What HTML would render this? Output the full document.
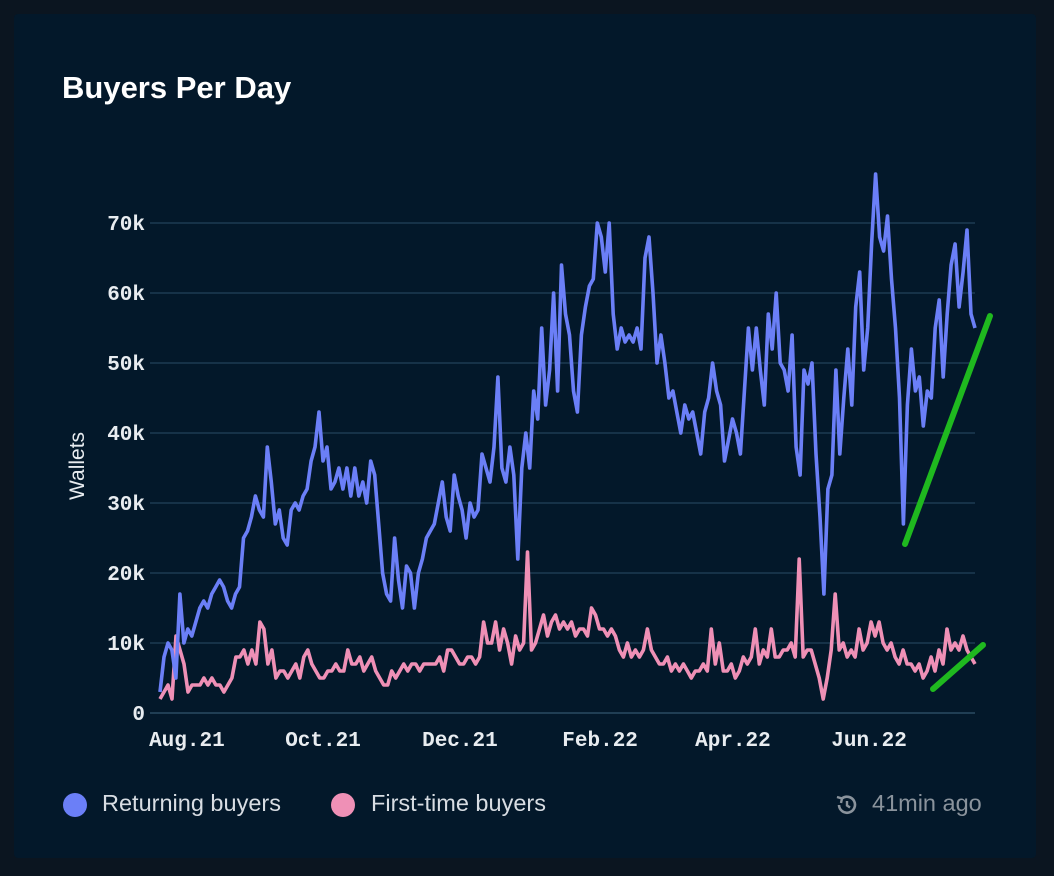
<!DOCTYPE html>
<html><head><meta charset="utf-8"><style>
html,body{margin:0;padding:0;background:#0b1520;}
body{width:1054px;height:876px;position:relative;overflow:hidden;font-family:"Liberation Sans",sans-serif;}
.card{position:absolute;left:14px;top:14px;width:1022px;height:844px;background:#03182a;border-radius:4px;}
.title{position:absolute;left:62px;top:70px;color:#fff;font-weight:bold;font-size:31px;}
.leg{position:absolute;top:790px;color:#d8dde3;font-size:23.5px;}
.dot{position:absolute;width:24px;height:24px;border-radius:50%;top:793px;}
</style></head><body>
<div class="card"></div>
<div class="title">Buyers Per Day</div>
<svg id="chart" width="1054" height="876" style="position:absolute;left:0;top:0"></svg>
<div class="dot" style="left:63px;background:#6b7ff7"></div>
<div class="leg" style="left:102px">Returning buyers</div>
<div class="dot" style="left:331px;background:#ef90b6"></div>
<div class="leg" style="left:371px">First-time buyers</div>
<svg style="position:absolute;left:834px;top:792px" width="26" height="26" viewBox="0 0 26 26">
<path d="M5 13 A8 8 0 1 0 8 6.5" fill="none" stroke="#8a939c" stroke-width="2.6"/><path d="M3 5 L8 6.5 L7 11" fill="none" stroke="#8a939c" stroke-width="2.4"/><path d="M13 9 V13.5 L16 15.5" fill="none" stroke="#8a939c" stroke-width="2.4"/></svg>
<div class="leg" style="left:872px;color:#8a939c">41min ago</div>
<script>
const yTicks=[0,10,20,30,40,50,60,70];
const yTickLabels=["0","10k","20k","30k","40k","50k","60k","70k"];
const xTickLabels=["Aug.21","Oct.21","Dec.21","Feb.22","Apr.22","Jun.22"];
const xTickFrac=[0.033,0.2,0.368,0.54,0.703,0.87];
const returning=[3,8,10,9,5,17,10,12,11,13,15,16,15,17,18,19,18,16,15,17,18,25,26,28,31,29,28,38,33,27,29,25,24,29,30,29,31,32,36,38,43,36,38,32,33,35,32,35,31,35,31,33,30,36,34,27,20,17,16,25,19,15,21,20,15,20,22,25,26,27,30,33,28,26,34,31,29,25,30,28,29,37,35,33,38,48,35,33,38,34,22,35,40,35,46,42,55,44,49,60,46,64,57,54,46,43,54,58,61,62,70,68,63,70,57,52,55,53,54,53,55,52,65,68,60,50,54,50,45,46,43,40,44,42,43,40,37,43,45,50,46,44,36,39,42,40,37,46,55,49,55,49,44,57,52,60,50,49,46,54,38,34,49,47,50,37,28,17,32,34,49,37,45,52,44,58,63,49,55,67,77,68,66,71,62,55,45,27,44,52,46,48,41,46,45,55,59,48,57,64,67,58,63,69,57,55];
const firstTime=[2,3,4,2,11,9,7,3,4,4,4,5,4,5,4,4,3,4,5,8,8,9,7,9,7,13,12,7,9,5,6,6,5,6,7,5,8,9,7,6,5,5,6,6,7,6,6,9,7,7,8,6,7,8,6,5,4,4,6,5,6,7,6,7,7,6,7,7,7,7,8,6,9,9,8,7,7,8,8,7,8,13,10,10,13,9,12,10,7,11,9,10,23,9,10,12,14,11,13,14,12,13,12,13,11,12,12,11,15,14,12,12,11,12,11,9,8,10,8,9,8,9,12,9,8,7,7,8,6,7,6,7,6,5,6,6,7,6,12,7,10,6,6,7,5,6,8,7,8,12,7,9,8,12,8,8,9,9,10,8,22,8,9,9,7,5,2,5,9,17,9,10,8,9,8,12,9,10,13,11,13,10,9,10,8,7,9,7,7,6,7,5,6,8,6,9,7,12,9,10,9,11,9,8,7];
const svg=document.getElementById('chart');const NS='http://www.w3.org/2000/svg';
const X0=160,X1=975,Y0=713,PX=7;
const yScale=v=>Y0-v*PX;
const xScale=(i,n)=>X0+i*(X1-X0)/(n-1);
function mk(t,a){const e=document.createElementNS(NS,t);for(const k in a)e.setAttribute(k,a[k]);svg.appendChild(e);return e;}
yTicks.forEach((v,i)=>{
 const g=mk('line',{x1:150,x2:975,y1:yScale(v),y2:yScale(v),stroke:i==0?'#2a4a63':'#1d3a52','stroke-width':1.5});
 
 
 const t=mk('text',{x:145,y:yScale(v)+7,'text-anchor':'end',fill:'#e8ecf0','font-size':21,'font-weight':'bold','font-family':'Liberation Mono, monospace'});
 t.textContent=yTickLabels[i];
 
 
});
xTickLabels.forEach((l,i)=>{
 const t=mk('text',{x:X0+xTickFrac[i]*(X1-X0),y:746,'text-anchor':'middle',fill:'#e8ecf0','font-size':21,'font-weight':'bold','font-family':'Liberation Mono, monospace'});
 t.textContent=l;
 
 
});
const yt=mk('text',{x:0,y:0,transform:'translate(84,466) rotate(-90)','text-anchor':'middle',fill:'#e8ecf0','font-size':21});
yt.textContent='Wallets';


function line(arr,col,name){
 const d=arr.map((v,i)=>(i?'L':'M')+xScale(i,arr.length).toFixed(1)+' '+yScale(v).toFixed(1)).join(' ');
 const p=mk('path',{d:d,fill:'none',stroke:col,'stroke-width':3.6,'stroke-linejoin':'round'});
 
 
}
line(firstTime,'#ef90b6','first-time-buyers-line');
line(returning,'#6b7ff7','returning-buyers-line');
const g1=mk('line',{x1:905,y1:544,x2:990,y2:316,stroke:'#1fb91f','stroke-width':6,'stroke-linecap':'round'});


const g2=mk('line',{x1:933,y1:689,x2:983,y2:645,stroke:'#1fb91f','stroke-width':6,'stroke-linecap':'round'});


</script>
</body></html>
